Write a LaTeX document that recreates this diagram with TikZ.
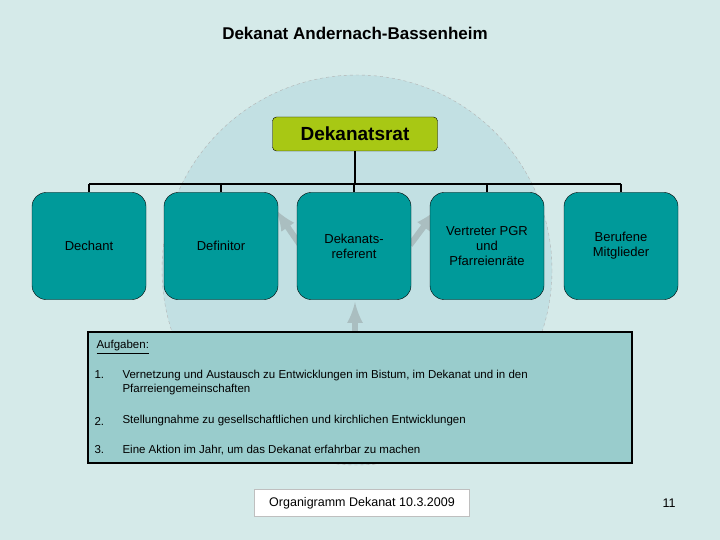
\documentclass[tikz,border=0pt]{standalone}
\usepackage{fontspec}
\setmainfont{Liberation Sans}
\begin{document}
\begin{tikzpicture}[x=1pt,y=-1pt,
  member/.style={draw=black,rounded corners=14pt,minimum width=114pt,minimum height=107pt,align=center,font=\fontsize{13}{15}\selectfont},
  ln/.style={line width=1.6pt},
  ghost/.style={color={rgb,255:red,170;green,190;blue,192},line width=6pt,-latex}]
\definecolor{bg}{HTML}{D5EAE9}
\definecolor{tl}{HTML}{009A9A}
\definecolor{circ}{HTML}{C2E0E3}
\fill[bg] (0,0) rectangle (720,540);
\useasboundingbox (0,0) rectangle (720,540);
\fill[circ] (357,270) circle (195);
\draw[gray!60,dashed,thin] (357,270) circle (195);
\draw[ghost] (300,245) -- (276,210);
\draw[ghost] (410,245) -- (436,210);
\draw[ghost] (355,332) -- (355,302);
\node[font=\bfseries\fontsize{17}{20}\selectfont] (title) at (355,33) {Dekanat Andernach-Bassenheim};
\node[draw=black,fill={rgb,255:red,168;green,200;blue,20},rounded corners=4pt,minimum width=165pt,minimum height=34pt,font=\bfseries\fontsize{19}{22}\selectfont] (rat) at (355,134) {Dekanatsrat};
\node[member,fill=tl] (m1) at (89,246) {Dechant};
\node[member,fill=tl] (m2) at (221,246) {Definitor};
\node[member,fill=tl] (m3) at (354,246) {Dekanats-\\referent};
\node[member,fill=tl] (m4) at (487,246) {Vertreter PGR\\und\\Pfarreienräte};
\node[member,fill=tl] (m5) at (621,246) {Berufene\\Mitglieder};
\coordinate (l) at (89,184); \coordinate (r) at (621,184);
\draw[ln] (rat.south) -- (355,184);
\draw[ln] (l) -- (r);
\foreach \m in {m1,m2,m3,m4,m5} \draw[ln] (\m.north |- l) -- (\m.north);
\node[draw=black,line width=1.2pt,fill={rgb,255:red,153;green,204;blue,204},minimum width=544pt,minimum height=131pt] (auf) at (360,397.5) {};
\begin{scope}[font=\fontsize{11.5}{14}\selectfont]
\node[anchor=west] (a0) at (93,347) {\underline{Aufgaben:}};
\node[anchor=north west] (a1) at (91,367) {1.};
\node[anchor=north west,align=left] (a1t) at (119,367) {Vernetzung und Austausch zu Entwicklungen im Bistum, im Dekanat und in den\\Pfarreiengemeinschaften};
\node[anchor=west] (a2) at (91,421) {2.};
\node[anchor=west] (a2t) at (119,421) {Stellungnahme zu gesellschaftlichen und kirchlichen Entwicklungen};
\node[anchor=west] (a3) at (91,450) {3.};
\node[anchor=west] (a3t) at (119,450) {Eine Aktion im Jahr, um das Dekanat erfahrbar zu machen};
\end{scope}
\node[draw=gray!50,fill=white,minimum width=215pt,minimum height=27pt,font=\fontsize{12.5}{15}\selectfont] (foot) at (362,503) {Organigramm Dekanat 10.3.2009};
\node[font=\fontsize{12.5}{15}\selectfont] (pg) at (669,503) {11};
\end{tikzpicture}
\end{document}
